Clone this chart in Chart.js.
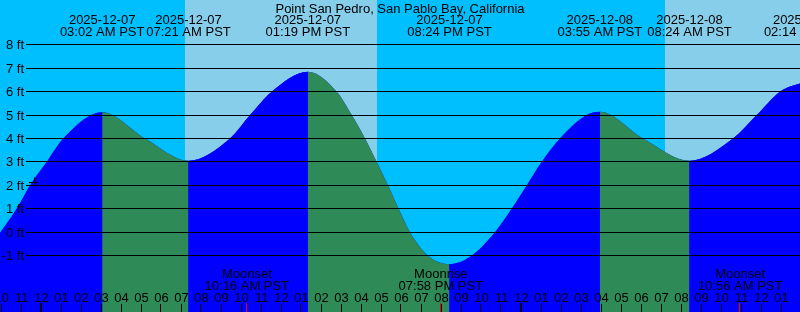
<!DOCTYPE html>
<html>
<head>
<meta charset="utf-8">
<script src="https://cdn.jsdelivr.net/npm/chart.js@4.4.1/dist/chart.umd.min.js"></script>
<style>
  body { margin: 0; background: #fff; }
  #wrap { width: 800px; height: 312px; }
</style>
</head>
<body>
<div id="wrap"><canvas id="tideChart" width="800" height="312"></canvas></div>
<script>
// hours since midnight 2025-12-07 (PST), water level in feet
const tideHours = [-2.075, -1.24, -0.575, 0.26, 1.09, 3.033, 5.175, 7.35, 9.425, 10.425, 11.51, 13.317, 14.76, 15.51, 16.175, 16.76, 17.325, 17.925, 18.425, 19.325, 20.4, 21.51, 22.675, 23.51, 24.26, 25.01, 25.925, 27.26, 27.917, 30.075, 32.4, 34.575, 35.76, 36.925, 37.925, 38.233];
const tideFeet = [-0.03, 1.0, 2.0, 3.0, 4.0, 5.12, 4.0, 3.05, 4.0, 5.0, 6.0, 6.85, 6.0, 5.0, 4.0, 3.0, 2.0, 0.88, 0.0, -1.0, -1.36, -1.0, 0.0, 1.0, 2.0, 3.0, 4.0, 5.0, 5.14, 4.0, 3.05, 4.0, 5.0, 6.0, 6.35, 6.4];

// high / low events shown at the top
const eventHours = [3.033, 7.35, 13.317, 20.4, 27.917, 32.4, 38.233];
const eventDates = ["2025-12-07", "2025-12-07", "2025-12-07", "2025-12-07", "2025-12-08", "2025-12-08", "2025-12-08"];
const eventTimes = ["03:02 AM PST", "07:21 AM PST", "01:19 PM PST", "08:24 PM PST", "03:55 AM PST", "08:24 AM PST", "02:14 PM PST"];

// moon events at the bottom
const moonHours = [10.267, 19.967, 34.933];
const moonNames = ["Moonset", "Moonrise", "Moonset"];
const moonTimes = ["10:16 AM PST", "07:58 PM PST", "10:56 AM PST"];

// daylight (sunrise, sunset)
const dayStart = [7.175, 31.175];
const dayEnd = [16.775, 40.8];

const firstHour = -2;
const hourLabels = ["10", "11", "12", "01", "02", "03", "04", "05", "06", "07", "08", "09", "10", "11", "12", "01", "02", "03", "04", "05", "06", "07", "08", "09", "10", "11", "12", "01", "02", "03", "04", "05", "06", "07", "08", "09", "10", "11", "12", "01"];
const midnights = [0, 24];

const feetTicks = [-1, 0, 1, 2, 3, 4, 5, 6, 7, 8];
const nowMark = { h: -0.4, ft: 2.15 };

const title = "Point San Pedro, San Pablo Bay, California";

const RISING = "#0000ff";
const FALLING = "#2e8b57";
const NIGHT = "#00bfff";
const DAY = "#87ceeb";
const FONT = "13px 'Liberation Sans', Arial, sans-serif";

var points = tideHours.map(function (h, i) { return { x: h, y: tideFeet[i] }; });

var tidePlugin = {
  id: "tide",
  beforeDraw: function (chart) {
    var ctx = chart.ctx, x = chart.scales.x;
    ctx.save();
    ctx.fillStyle = NIGHT;
    ctx.fillRect(0, 0, chart.width, chart.height);
    ctx.fillStyle = DAY;
    for (var i = 0; i < dayStart.length; i++) {
      var a = Math.round(x.getPixelForValue(dayStart[i]));
      var b = Math.round(x.getPixelForValue(dayEnd[i]));
      ctx.fillRect(a, 0, b - a, chart.height);
    }
    ctx.restore();
  },
  afterDraw: function (chart) {
    var ctx = chart.ctx, x = chart.scales.x, y = chart.scales.y;
    var H = chart.height;
    ctx.save();

    // grid lines + feet labels
    ctx.strokeStyle = "#000";
    ctx.lineWidth = 1;
    ctx.font = FONT;
    ctx.fillStyle = "#000";
    ctx.textAlign = "right";
    ctx.textBaseline = "middle";
    feetTicks.forEach(function (f) {
      var py = Math.floor(y.getPixelForValue(f)) + 0.5;
      ctx.beginPath();
      ctx.moveTo(26, py);
      ctx.lineTo(chart.width, py);
      ctx.stroke();
      ctx.fillText(f + " ft", 24, py + 1);
    });

    // now marker
    var cx = x.getPixelForValue(nowMark.h), cy = y.getPixelForValue(nowMark.ft);
    ctx.beginPath();
    ctx.moveTo(cx - 4.5, Math.round(cy) + 0.5);
    ctx.lineTo(cx + 4.5, Math.round(cy) + 0.5);
    ctx.moveTo(Math.round(cx) + 0.5, cy - 4.5);
    ctx.lineTo(Math.round(cx) + 0.5, cy + 4.5);
    ctx.stroke();

    // title + events
    ctx.textAlign = "center";
    ctx.textBaseline = "alphabetic";
    ctx.fillText(title, chart.width / 2, 12.5);
    eventHours.forEach(function (h, i) {
      var px = x.getPixelForValue(h);
      ctx.fillText(eventDates[i], px, 23.5);
      ctx.fillText(eventTimes[i], px, 35.5);
    });

    // moon events
    moonHours.forEach(function (h, i) {
      var px = x.getPixelForValue(h);
      ctx.fillText(moonNames[i], px, 278);
      ctx.fillText(moonTimes[i], px, 290);
    });

    // hour labels and ticks
    hourLabels.forEach(function (lab, i) {
      var px = x.getPixelForValue(firstHour + i);
      ctx.fillStyle = "#000";
      ctx.fillText(lab, px, 301.5);
      var tx = Math.round(px) - 0.5;
      ctx.beginPath();
      ctx.moveTo(tx, 304);
      ctx.lineTo(tx, H);
      ctx.stroke();
    });
    midnights.forEach(function (h) {
      var px = Math.round(x.getPixelForValue(h));
      ctx.fillRect(px - 2, 303, 2, H - 303);
    });
    ctx.fillStyle = "#ff0000";
    moonHours.forEach(function (h) {
      var px = Math.round(x.getPixelForValue(h));
      ctx.fillRect(px - 1, 303, 1, H - 303);
    });
    ctx.restore();
  }
};

var chart = new Chart(document.getElementById("tideChart"), {
  type: "line",
  data: {
    datasets: [{
      // rising = blue, falling = green
      data: points,
      fill: "start",
      backgroundColor: RISING,
      borderWidth: 0,
      borderColor: "rgba(0,0,0,0)",
      pointRadius: 0,
      cubicInterpolationMode: "monotone",
      segment: {
        backgroundColor: function (c) {
          return c.p1.parsed.y >= c.p0.parsed.y ? RISING : FALLING;
        }
      }
    }, {
      // plain underlay so the segment joins have no seams
      data: points,
      fill: "start",
      backgroundColor: RISING,
      borderWidth: 0,
      borderColor: "rgba(0,0,0,0)",
      pointRadius: 0,
      cubicInterpolationMode: "monotone"
    }]
  },
  options: {
    responsive: false,
    animation: false,
    devicePixelRatio: 1,
    layout: { padding: 0 },
    plugins: { legend: { display: false }, tooltip: { enabled: false } },
    scales: {
      x: { type: "linear", min: -2.075, max: 37.925, display: false },
      y: { min: -3.40, max: 9.91, display: false }
    }
  },
  plugins: [tidePlugin]
});
</script>
</body>
</html>
